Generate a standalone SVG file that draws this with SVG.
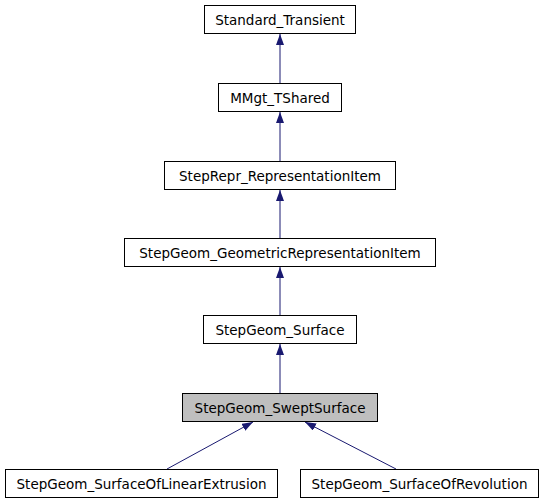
<svg xmlns="http://www.w3.org/2000/svg" width="544" height="504" viewBox="0 0 544 504">
<style>
.box{fill:#ffffff;stroke:#000000;stroke-width:1}
.cur{fill:#bfbfbf;stroke:#000000;stroke-width:1}
.lbl{font-family:"DejaVu Sans",sans-serif;font-size:13.5px;fill:#000000;text-anchor:middle}
.edge{stroke:#191970;stroke-width:1;fill:none;marker-end:url(#arr)}
</style>
<defs>
<marker id="arr" markerUnits="userSpaceOnUse" viewBox="0 0 11 8" markerWidth="11" markerHeight="8" refX="11" refY="4" orient="auto">
<path d="M0,0 L11,4 L0,8 Z" fill="#191970"/>
</marker>
</defs>
<rect width="544" height="504" fill="#ffffff"/>
<g id="edges">
<line class="edge" x1="280" y1="83.5" x2="280" y2="34"/>
<line class="edge" x1="280" y1="161.5" x2="280" y2="112"/>
<line class="edge" x1="280" y1="238.5" x2="280" y2="190"/>
<line class="edge" x1="280" y1="315.5" x2="280" y2="267"/>
<line class="edge" x1="280" y1="393.5" x2="280" y2="344"/>
<line class="edge" x1="167" y1="469" x2="253" y2="422"/>
<line class="edge" x1="396" y1="469" x2="305" y2="422"/>
</g>
<g id="n_Standard_Transient">
<rect class="box" x="204.5" y="5.5" width="151" height="28"/>
<text class="lbl" x="280" y="24.5">Standard_Transient</text>
</g>
<g id="n_MMgt_TShared">
<rect class="box" x="218.5" y="83.5" width="123" height="28"/>
<text class="lbl" x="280" y="102.5">MMgt_TShared</text>
</g>
<g id="n_StepRepr_RepresentationItem">
<rect class="box" x="164.5" y="161.5" width="231" height="28"/>
<text class="lbl" x="280" y="180.5">StepRepr_RepresentationItem</text>
</g>
<g id="n_StepGeom_GeometricRepresentationItem">
<rect class="box" x="124.5" y="238.5" width="311" height="28"/>
<text class="lbl" x="280" y="257.5">StepGeom_GeometricRepresentationItem</text>
</g>
<g id="n_StepGeom_Surface">
<rect class="box" x="203.5" y="315.5" width="153" height="28"/>
<text class="lbl" x="280" y="334.5">StepGeom_Surface</text>
</g>
<g id="n_StepGeom_SweptSurface">
<rect class="cur" x="182.5" y="393.5" width="195" height="28"/>
<text class="lbl" x="280" y="412.5">StepGeom_SweptSurface</text>
</g>
<g id="n_StepGeom_SurfaceOfLinearExtrusion">
<rect class="box" x="5.5" y="469.5" width="272" height="28"/>
<text class="lbl" x="141.5" y="488.5">StepGeom_SurfaceOfLinearExtrusion</text>
</g>
<g id="n_StepGeom_SurfaceOfRevolution">
<rect class="box" x="300.5" y="469.5" width="238" height="28"/>
<text class="lbl" x="419.5" y="488.5">StepGeom_SurfaceOfRevolution</text>
</g>
</svg>
